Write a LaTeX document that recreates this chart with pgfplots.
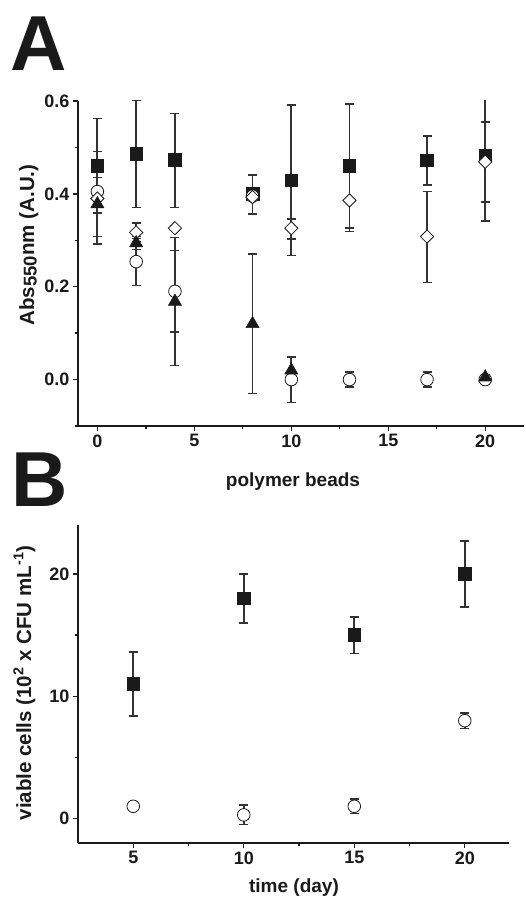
\documentclass[border=0pt]{standalone}
\usepackage{fontspec}
\setmainfont{Liberation Sans}
\usepackage{pgfplots}
\pgfplotsset{compat=1.18}
\usepackage{pgfplotstable}

\definecolor{ink}{HTML}{1A1A1A}
\definecolor{errc}{HTML}{333333}

\pgfplotstableread{
x y ep em
0 0.460 0.102 0.101
2 0.486 0.115 0.115
4 0.473 0.100 0.102
8 0.400 0.041 0.043
10 0.429 0.162 0.162
13 0.460 0.134 0.134
17 0.472 0.053 0.053
20 0.482 0.140 0.140
}\Asq
\pgfplotstableread{
x y ep em
0 0.405 0.086 0.097
2 0.254 0.050 0.051
4 0.190 0.088 0.088
8 0.395 0.000 0.000
10 0.000 0.049 0.049
13 0.000 0.016 0.016
17 0.000 0.016 0.016
20 0.000 0.010 0.010
}\Aci
\pgfplotstableread{
x y ep em
0 0.390 0.000 0.000
2 0.317 0.020 0.020
4 0.326 0.005 0.005
8 0.393 0.005 0.005
10 0.326 0.020 0.023
13 0.386 0.067 0.067
17 0.308 0.097 0.099
20 0.469 0.086 0.086
}\Adi
\pgfplotstableread{
x y ep em
0 0.378 0.057 0.086
2 0.294 0.014 0.014
4 0.168 0.138 0.138
8 0.120 0.151 0.150
10 0.020 0.030 0.030
20 0.005 0.005 0.005
}\Atr
\pgfplotstableread{
x y e
5 11.0 2.6
10 18.0 2.0
15 15.0 1.5
20 20.0 2.7
}\Bsq
\pgfplotstableread{
x y e
5 1.0 0.3
10 0.3 0.8
15 1.0 0.6
20 8.0 0.65
}\Bci

\pgfplotsset{
  panel/.style={
    scale only axis,
    axis x line=bottom, axis y line=left,
    axis line style={-, line width=1.6pt, ink},
    tick align=outside,
    major tick length=5pt, minor tick length=3pt,
    every tick/.style={line width=1.3pt, ink},
    tick label style={font=\fontsize{18}{21}\selectfont\bfseries, text=ink},
    /pgf/number format/assume math mode=true,
    error bars/y dir=both, error bars/y explicit,
    error bars/error mark=|,
    error bars/error bar style={line width=1.8pt, errc},
    error bars/error mark options={line width=1.6pt, errc, mark size=4.5pt},
  },
  sqm/.style={only marks, mark=square*, mark size=6.3pt, mark options={fill=ink, draw=ink, line width=0.6pt}},
  cim/.style={only marks, mark=*, mark size=6.3pt, mark options={fill=white, draw=ink, line width=0.8pt}},
  dim/.style={only marks, mark=square*, mark size=4.7pt, mark options={rotate=45, fill=white, draw=ink, line width=0.8pt}},
  trm/.style={only marks, mark=triangle*, mark size=7.5pt, mark options={fill=ink, draw=ink, line width=0.6pt}},
}

\begin{document}
\begin{tikzpicture}[x=1pt,y=1pt]
\path[use as bounding box] (0,0) rectangle (526,900);

\begin{axis}[panel,
  at={(78pt,474pt)}, anchor=south west,
  width=446pt, height=325pt,
  xmin=-1, xmax=22, ymin=-0.1, ymax=0.6,
  xtick={0,5,10,15,20}, minor xtick={2.5,7.5,12.5,17.5},
  ytick={0,0.2,0.4,0.6}, minor ytick={-0.1,0.1,0.3,0.5},
  yticklabel style={/pgf/number format/.cd, fixed, fixed zerofill, precision=1},
]
\addplot+[sqm] table[x=x, y=y, y error plus=ep, y error minus=em] {\Asq};
\addplot+[cim] table[x=x, y=y, y error plus=ep, y error minus=em] {\Aci};
\addplot+[dim] table[x=x, y=y, y error plus=ep, y error minus=em] {\Adi};
\addplot+[trm] table[x=x, y=y, y error plus=ep, y error minus=em] {\Atr};
\end{axis}

\begin{axis}[panel,
  at={(78pt,57pt)}, anchor=south west,
  width=431pt, height=318pt,
  xmin=2.5, xmax=22, ymin=-2, ymax=24,
  xtick={5,10,15,20}, minor xtick={7.5,12.5,17.5},
  ytick={0,10,20}, minor ytick={5,15},
]
\addplot+[sqm] table[x=x, y=y, y error=e] {\Bsq};
\addplot+[cim] table[x=x, y=y, y error=e] {\Bci};
\end{axis}

\node[anchor=base west, inner sep=0pt, font=\fontsize{78}{80}\selectfont\bfseries, text=ink] at (10,829) {A};
\node[anchor=base west, inner sep=0pt, font=\fontsize{78}{80}\selectfont\bfseries, text=ink] at (11,393) {B};
\node[anchor=base, inner sep=0pt, font=\fontsize{19}{22}\selectfont\bfseries, text=ink] at (293,413) {polymer beads};
\node[anchor=base, inner sep=0pt, font=\fontsize{19}{22}\selectfont\bfseries, text=ink] at (294,8) {time (day)};
\node[anchor=base, rotate=90, inner sep=0pt, font=\fontsize{20.5}{24}\selectfont\bfseries, text=ink] at (34,655) {Abs\raisebox{-0.25ex}{\fontsize{18.5}{21}\selectfont 550}nm (A.U.)};
\node[anchor=base, rotate=90, inner sep=0pt, font=\fontsize{20.5}{24}\selectfont\bfseries, text=ink] at (31,217) {viable cells (10\textsuperscript{2} x CFU mL\textsuperscript{-1})};
\end{tikzpicture}
\end{document}
